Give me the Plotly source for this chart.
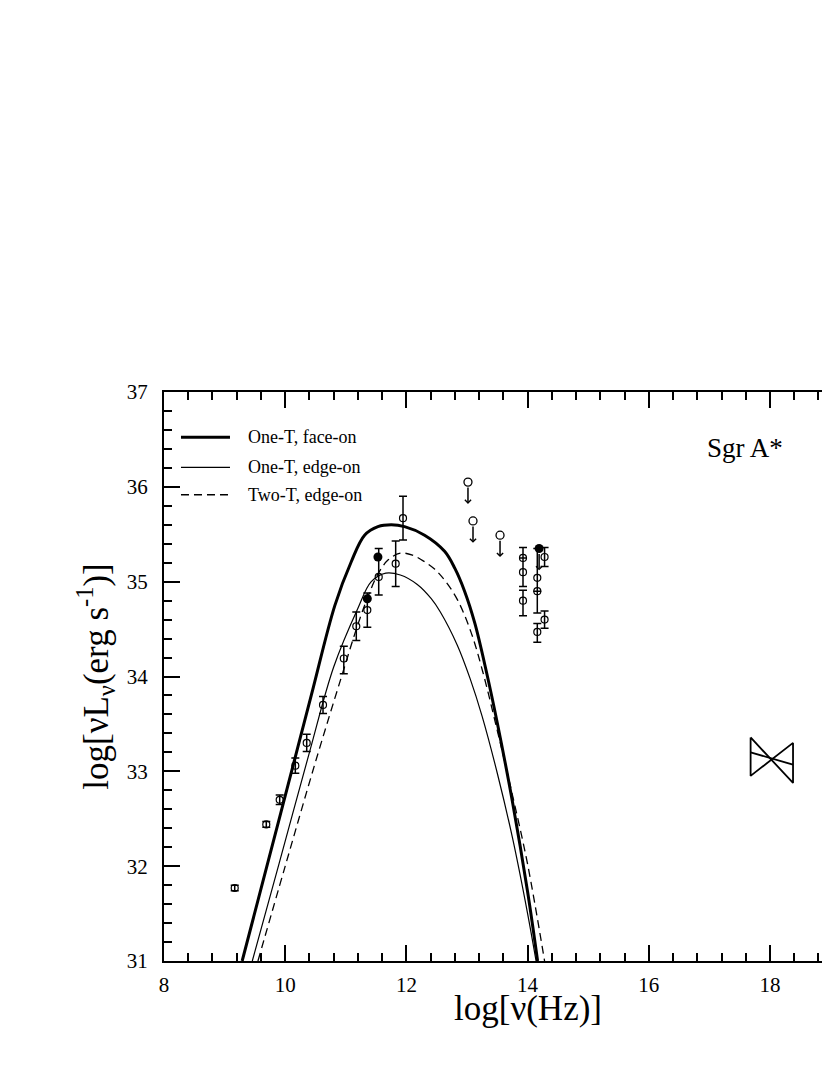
import plotly.graph_objects as go

# model spectra, log nu [Hz] vs log nuL_nu [erg/s]
face_x = [9.29, 9.60, 10.00, 10.43, 10.82, 11.09, 11.31, 11.53, 11.75, 11.97, 12.30,
          12.63, 12.80, 12.96, 13.13, 13.32, 13.50, 13.75, 14.00, 14.165]
face_y = [31.00, 31.76, 32.74, 33.80, 34.75, 35.21, 35.49, 35.58, 35.60, 35.58, 35.49,
          35.32, 35.14, 34.90, 34.56, 34.05, 33.51, 32.68, 31.73, 31.00]

edge_x = [9.457, 9.90, 10.40, 10.80, 11.20, 11.42, 11.66, 11.90, 12.18, 12.41, 12.56,
          12.84, 13.05, 13.25, 13.50, 13.75, 14.00, 14.14]
edge_y = [31.00, 32.03, 33.20, 34.10, 34.72, 35.00, 35.09, 35.07, 34.97, 34.82, 34.68,
          34.33, 33.98, 33.58, 32.98, 32.30, 31.50, 31.00]

two_x = [9.55, 10.00, 10.50, 10.93, 11.20, 11.37, 11.53, 11.70, 11.90, 12.10, 12.30,
         12.47, 12.65, 12.85, 13.07, 13.26, 13.50, 13.75, 14.00, 14.28]
two_y = [31.00, 32.00, 33.10, 34.00, 34.55, 34.85, 35.08, 35.23, 35.30, 35.28, 35.21,
         35.13, 35.00, 34.80, 34.46, 34.05, 33.43, 32.75, 32.02, 31.00]

curve_names = ["One-T, face-on", "One-T, edge-on", "Two-T, edge-on"]

# observed fluxes (open circles) with error bars
obs_x = [9.167, 9.688, 9.909, 10.167, 10.355, 10.624, 10.967, 11.173, 11.355, 11.543,
         11.823, 11.944, 13.924, 13.924, 13.924, 14.16, 14.16, 14.16, 14.28, 14.28]
obs_y = [31.77, 32.44, 32.70, 33.06, 33.30, 33.70, 34.19, 34.53, 34.70, 35.05,
         35.19, 35.67, 35.25, 35.10, 34.80, 35.04, 34.90, 34.47, 35.26, 34.60]
obs_err_hi = [0.03, 0.03, 0.05, 0.08, 0.09, 0.09, 0.13, 0.15, 0.18, 0.30,
              0.24, 0.23, None, 0.26, 0.11, 0.31, None, 0.09, 0.10, 0.09]
obs_err_lo = [0.03, 0.03, 0.05, 0.08, 0.09, 0.09, 0.16, 0.15, 0.18, 0.19,
              0.24, 0.23, None, 0.15, 0.16, 0.37, None, 0.11, 0.10, 0.09]

# filled points
fill_x = [11.355, 11.53]
fill_y = [34.82, 35.26]

# upper limits
lim_x = [13.016, 13.099, 13.545]
lim_y = [36.05, 35.64, 35.49]
flim_x = [14.19]
flim_y = [35.35]
ARROW_LEN = 0.23

# X-ray bow tie
xray_x = [17.68, 18.38]
xray_steep = [33.357, 32.878]
xray_flat = [32.952, 33.30]
xray_best = [33.20, 33.07]

FONT = "Liberation Serif"

fig = go.Figure()

styles = [dict(width=3), dict(width=1.2), dict(width=1.3, dash="8px,5px")]
for cx, cy, st in zip([face_x, edge_x, two_x], [face_y, edge_y, two_y], styles):
    fig.add_scatter(x=cx, y=cy, mode="lines", showlegend=False,
                    line=dict(color="black", shape="spline", smoothing=1.0, **st))

fig.add_scatter(x=obs_x, y=obs_y, mode="markers", showlegend=False,
                marker=dict(symbol="circle-open", size=7, color="black",
                            line=dict(width=1.2)),
                error_y=dict(type="data", symmetric=False, array=obs_err_hi,
                             arrayminus=obs_err_lo, color="black",
                             thickness=1.5, width=4))
fig.add_scatter(x=fill_x + flim_x, y=fill_y + flim_y, mode="markers",
                showlegend=False,
                marker=dict(symbol="circle", size=9, color="black"))
fig.add_scatter(x=lim_x, y=lim_y, mode="markers", showlegend=False,
                marker=dict(symbol="circle-open", size=8, color="black",
                            line=dict(width=1.3)))

# bow tie outline and best fit
fig.add_scatter(
    x=[xray_x[0], xray_x[1], xray_x[1], xray_x[0], xray_x[0]],
    y=[xray_steep[0], xray_steep[1], xray_flat[1], xray_flat[0], xray_steep[0]],
    mode="lines", showlegend=False, line=dict(color="black", width=1.8))
fig.add_scatter(x=xray_x, y=xray_best, mode="lines", showlegend=False,
                line=dict(color="black", width=1.8))

for lx, ly in zip(lim_x + flim_x, lim_y + flim_y):
    fig.add_annotation(x=lx, y=ly - ARROW_LEN, ax=lx, ay=ly, xref="x", yref="y",
                       axref="x", ayref="y", text="", showarrow=True,
                       arrowhead=4, arrowsize=0.8, arrowwidth=1.5,
                       arrowcolor="black", startstandoff=4)

# legend drawn by hand: sample line + label per model
leg_rows = [0.9204, 0.8676, 0.8194]
for name, st, ry in zip(curve_names, styles, leg_rows):
    fig.add_shape(type="line", xref="x domain", yref="y domain",
                  x0=0.0252, x1=0.0979, y0=ry, y1=ry,
                  line=dict(color="black", **st))
    fig.add_annotation(x=0.1217, y=ry, xref="x domain", yref="y domain",
                       xanchor="left", yanchor="middle", text=name,
                       showarrow=False, font=dict(size=18))

fig.add_annotation(x=17.59, y=36.41, xref="x", yref="y", text="Sgr A*",
                   showarrow=False, font=dict(size=27))
fig.add_annotation(x=14, y=-0.047, xref="x", yref="paper", yanchor="top",
                   text="log[ν(Hz)]", showarrow=False, borderpad=0,
                   font=dict(size=35))

fig.update_xaxes(
    range=[8, 19.122],
    tickmode="linear", tick0=8, dtick=2,
    ticks="inside", ticklen=16, tickwidth=1.5, tickcolor="black",
    minor=dict(dtick=0.4, ticks="inside", ticklen=8, tickwidth=1.5,
               tickcolor="black"),
    showline=True, linecolor="black", linewidth=2, mirror="allticks",
    showgrid=False, zeroline=False, ticklabelstandoff=4,
)
fig.update_yaxes(
    range=[31, 37],
    tickmode="linear", tick0=31, dtick=1,
    ticks="inside", ticklen=16, tickwidth=1.5, tickcolor="black",
    minor=dict(dtick=0.2, ticks="inside", ticklen=8, tickwidth=1.5,
               tickcolor="black"),
    showline=True, linecolor="black", linewidth=2, mirror=False,
    showgrid=False, zeroline=False, ticklabelstandoff=10,
    title=dict(text="log[νL<sub>ν</sub>(erg s<sup>-1</sup>)]",
               font=dict(size=35), standoff=8),
)

fig.update_layout(
    width=830, height=1075,
    margin=dict(l=156, r=0, t=384, b=122),
    font=dict(family=FONT, size=21, color="black"),
    plot_bgcolor="white", paper_bgcolor="white",
    showlegend=False,
)

fig.write_html("out.html")
